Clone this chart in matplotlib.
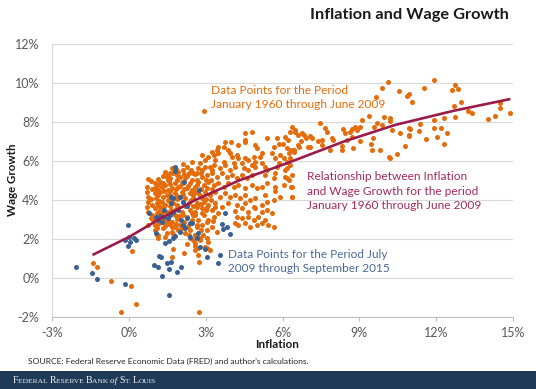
import matplotlib
matplotlib.use("Agg")
import matplotlib.pyplot as plt

plt.rcParams['font.family'] = ['Lato', 'DejaVu Sans']

# ---- data (inflation %, wage growth %) ----
obs_1960_2009 = [
    (-1.39,0.79),(-1.24,0.56),(-0.70,-0.15),(0.09,-0.39),(0.28,-1.33),(-0.32,-1.74),(2.73,-1.74),
    (0.12,1.40),(1.71,1.47),(1.67,1.09),(2.16,1.26),(2.75,0.84),(2.95,8.58),
    (0.76,5.06),(0.72,4.69),(0.72,4.43),(0.74,4.17),(0.76,3.92),(0.72,3.66),(0.76,3.40),
    (1.02,4.86),(1.02,4.60),(1.02,4.35),(1.06,4.09),(1.09,3.83),(1.02,3.58),(1.09,3.32),(1.06,3.06),
    (1.22,4.94),(1.28,4.69),(1.22,4.43),(1.35,4.17),(1.28,3.92),(1.22,3.66),(1.35,3.15),(1.28,2.89),
    (1.41,5.46),(1.48,5.20),(1.54,5.03),(1.41,4.77),(1.54,4.52),(1.48,4.26),(1.54,4.00),(1.41,3.75),(1.48,3.40),(1.54,2.98),
    (1.67,5.63),(1.74,5.37),(1.61,5.11),(1.80,4.86),(1.67,4.60),(1.80,4.35),(1.67,4.09),(1.74,3.83),(1.80,3.23),(1.67,2.89),
    (1.93,5.46),(2.00,5.20),(2.06,4.94),(1.93,4.69),(2.06,4.43),(2.00,4.17),(2.13,3.92),(1.93,3.66),(2.06,3.40),
    (2.26,5.71),(2.33,5.37),(2.20,5.11),(2.39,4.86),(2.26,4.60),(2.39,4.35),(2.20,4.09),(2.33,3.83),(2.39,3.49),(2.26,3.15),
    (2.52,5.37),(2.65,5.03),(2.59,4.69),(2.72,4.35),(2.52,4.09),(2.65,3.75),(2.59,3.40),(2.72,2.98),
    (1.54,5.30),(1.87,5.26),(2.26,5.24),(2.58,5.31),(1.12,4.76),(1.61,4.80),(2.00,4.74),(2.32,4.72),(2.65,4.79),
    (1.12,4.24),(1.61,4.28),(1.87,4.22),(2.13,4.30),(2.52,4.25),(1.12,3.72),(1.61,3.70),(1.87,3.76),(2.52,3.68),
    (0.92,3.25),(1.61,3.26),(1.96,3.18),(2.52,3.22),(0.76,2.72),(1.02,2.70),(1.15,2.78),(1.41,2.66),(1.67,2.60),
    (2.00,2.70),(2.32,2.68),(2.65,2.74),(1.15,2.19),(1.41,2.10),(1.74,2.24),(2.58,2.18),(2.26,1.72),(2.58,1.66),
    (2.45,5.95),(2.10,5.55),
    (0.85,4.95),(0.90,4.55),(0.88,4.05),(0.92,3.75),(0.86,3.10),(0.95,2.95),
    (1.15,5.10),(1.15,4.50),(1.17,3.95),(1.18,3.45),(1.20,3.05),(1.10,2.55),
    (1.35,5.25),(1.32,4.85),(1.38,4.45),(1.33,3.65),(1.30,3.35),(1.40,2.85),
    (1.60,5.40),(1.58,4.95),(1.62,4.45),(1.58,3.95),(1.63,3.50),(1.58,2.75),
    (1.85,5.60),(1.88,5.05),(1.83,4.55),(1.90,4.05),(1.85,3.55),(1.88,3.05),(1.83,2.75),
    (2.12,5.85),(2.15,5.35),(2.12,4.85),(2.15,4.55),(2.18,3.70),(2.12,3.25),(2.15,2.85),
    (2.42,5.55),(2.45,5.05),(2.45,4.50),(2.42,4.00),(2.47,3.35),(2.45,3.00),(2.40,2.45),
    (2.80,5.40),(2.80,4.55),(2.85,4.10),(2.80,3.80),(2.85,3.35),(2.82,2.45),
    (3.00,5.05),(3.05,4.60),(3.02,4.05),(3.00,3.50),(3.05,2.85),
    (3.25,5.55),(3.20,5.05),(3.25,4.55),(3.22,4.00),(3.28,2.90),
    (1.02,2.46),(1.09,2.21),(1.15,2.04),(1.35,2.55),(1.48,2.29),(1.67,2.38),(1.80,2.63),(1.93,2.46),(2.06,2.55),
    (2.20,2.29),(2.33,2.21),(2.39,2.04),(2.52,1.95),(2.65,2.12),(2.78,1.95),(2.91,2.21),(3.04,2.04),(3.11,1.87),
    (2.59,1.44),(2.72,1.18),(3.04,1.52),
    (4.80,7.50),(4.54,7.42),(4.54,7.07),(4.54,6.95),(4.00,6.99),(4.28,6.82),(5.39,7.16),(5.78,7.16),(6.10,7.25),
    (6.00,6.87),(5.85,6.87),(5.65,6.70),(4.93,6.82),(5.00,6.65),(5.19,6.39),(5.13,6.22),
    (3.74,6.99),(3.70,6.73),(3.50,6.73),(3.44,6.56),(3.50,6.39),(3.24,6.48),(3.31,6.31),(3.11,6.22),(2.98,6.05),(2.85,6.31),(2.79,5.88),
    (3.89,6.56),(3.96,6.39),(4.02,6.22),(4.22,6.30),(4.28,6.13),(4.54,6.13),(4.67,6.05),(4.87,6.22),(4.93,5.96),
    (5.58,6.39),(5.71,6.13),(5.91,6.30),(6.04,6.13),(6.24,6.39),(6.30,6.13),(6.43,6.48),(6.17,5.96),(6.30,5.79),
    (5.85,5.88),(5.78,5.71),(5.19,5.88),(5.32,5.71),(5.39,5.54),(4.80,5.79),(4.93,5.71),(4.41,5.88),(4.48,5.62),(4.67,5.54),
    (4.09,5.88),(4.15,5.71),(3.96,5.54),(3.70,5.96),(3.76,5.79),(3.57,5.62),(3.37,6.05),(3.31,5.79),(3.18,5.71),
    (2.98,5.71),(2.85,5.54),(2.72,5.62),(2.66,5.37),(2.85,5.19),(3.05,5.28),(3.24,5.37),(3.44,5.19),(3.63,5.37),
    (3.83,5.19),(4.02,5.28),(4.22,5.11),(4.41,5.28),(4.61,5.11),(4.80,5.28),(5.32,5.28),(5.65,5.11),(5.71,5.37),
    (6.10,5.54),(6.37,5.28),(6.24,5.02),
    (2.72,4.94),(2.92,4.77),(3.11,4.94),(3.31,4.77),(3.50,4.85),(3.70,4.68),(3.89,4.85),(4.09,4.68),
    (4.28,4.77),(4.54,4.60),(4.80,4.77),(5.00,4.60),(5.19,4.68),(5.39,4.85),(5.71,4.68),(6.04,4.77),
    (2.59,4.42),(2.79,4.25),(2.98,4.42),(3.18,4.25),(3.37,4.42),(3.57,4.17),(3.76,4.34),(3.96,4.17),(4.15,4.25),
    (4.35,4.08),(4.54,4.25),(4.74,4.00),(4.93,4.08),(5.32,4.25),(5.65,4.00),(5.91,4.17),
    (2.66,3.83),(2.92,3.91),(3.11,3.74),(3.37,3.83),(3.63,3.66),(3.89,3.83),(4.22,3.74),(4.54,3.83),(4.87,3.66),(5.19,3.74),(5.39,3.91),
    (6.37,4.68),(6.37,4.17),(5.72,4.45),
    (2.66,3.65),(2.85,3.57),(3.05,3.65),(3.24,3.48),(3.37,3.65),
    (4.15,3.43),(4.41,3.57),(4.67,3.40),(4.93,3.57),(5.19,3.40),(5.39,3.48),(5.58,3.31),
    (4.22,3.14),(4.41,3.06),(4.67,3.14),(4.87,2.97),(5.06,3.14),(5.32,2.97),
    (4.15,2.80),(4.28,2.71),(4.54,2.80),(4.74,2.63),(5.00,2.71),(5.19,2.80),(5.45,2.71),(5.68,2.63),
    (2.59,3.23),(2.92,3.23),(3.11,2.97),(3.31,3.14),(3.50,3.31),
    (2.66,2.63),(2.85,2.71),(3.05,2.46),(3.24,2.63),(3.44,2.37),
    (2.59,2.20),(2.79,2.03),(2.59,1.77),(2.72,1.52),(2.98,1.60),(3.18,1.43),
    (10.10,10.07),(9.88,9.73),(9.65,9.30),
    (9.09,8.11),(9.39,8.33),(9.95,8.28),(10.20,8.19),(10.18,8.05),(9.88,7.85),(9.68,7.97),(9.59,7.73),(10.27,7.59),
    (8.83,7.73),(8.90,7.59),(8.64,7.51),(8.70,7.63),(8.38,7.63),(8.44,7.46),(7.66,7.68),(7.73,7.51),(7.47,7.94),
    (7.92,7.17),(7.99,7.08),(7.40,7.00),(7.53,7.08),(6.91,7.17),(6.73,7.00),(6.62,7.34),(6.78,7.46),(6.49,7.51),(6.30,7.51),
    (6.23,7.08),(6.59,6.82),(6.65,6.74),(7.01,6.74),(6.43,6.57),(6.33,6.57),(6.17,6.65),(7.08,6.70),
    (7.86,6.57),(8.31,6.77),(8.31,6.57),(8.51,7.08),(8.70,7.25),(8.77,6.65),(9.03,7.00),(9.46,6.88),(9.49,6.57),(9.55,7.17),
    (9.81,6.57),(10.14,6.19),(10.18,6.14),(6.17,5.63),(6.33,4.69),(6.36,4.17),(6.10,5.20),(6.17,5.11),
    (9.04,7.76),(7.54,6.82),(7.15,7.16),(6.37,7.76),(6.50,7.59),(6.82,7.34),(7.08,7.28),
    (10.55,9.60),(10.86,9.35),(10.92,9.42),(11.05,9.01),(11.51,9.74),(11.92,10.15),(12.61,9.64),(12.74,9.90),
    (12.87,9.69),(12.69,8.84),(12.98,9.01),(13.24,8.56),(13.41,8.48),(12.72,8.27),(12.29,8.22),(11.91,8.10),
    (11.35,7.90),(10.95,7.69),(10.99,7.62),(10.57,7.42),(11.34,7.56),(10.95,7.33),(10.95,7.28),(11.91,7.71),
    (12.17,7.69),(12.44,7.45),(12.04,7.23),(11.61,7.13),(12.31,6.87),(10.79,6.75),(10.48,6.34),
    (14.02,8.14),(14.31,8.29),(14.50,8.96),(14.50,8.70),(14.87,8.44),
]

obs_2009_2015 = [
    (-2.06,0.56),(-1.43,0.26),(-1.24,-0.07),(-0.15,-0.31),(-0.04,2.70),(-0.15,1.95),(0.02,2.09),(0.21,2.03),
    (0.27,1.93),(-0.02,1.64),(0.05,1.86),
    (0.80,3.35),(1.06,2.32),(1.15,2.97),(1.22,3.20),(1.37,3.49),(1.28,2.89),(1.61,3.21),(1.79,5.68),(1.79,5.50),
    (2.16,4.91),(1.71,4.09),(1.93,3.49),(2.03,2.97),(2.10,2.72),(2.20,2.55),(2.37,2.84),(2.26,3.06),
    (1.43,1.78),(1.56,1.91),(1.71,2.03),(1.80,2.15),(1.19,1.13),(1.25,1.06),(1.00,0.67),(1.12,0.58),(1.48,0.75),
    (1.56,0.46),(1.28,0.10),(1.57,-0.85),(1.90,0.31),(2.05,0.55),
    (2.78,1.61),(2.96,1.50),(3.04,1.09),(3.74,3.31),(3.56,1.20),(3.47,0.75),(3.65,2.77),(3.66,2.53),(3.85,2.63),(3.95,2.24),
    (2.73,4.51),(2.40,2.09),(2.68,2.03),(2.00,4.17),(1.64,4.14),(1.66,3.87),(1.05,3.15),(1.39,3.15),(1.54,3.06),
    (2.10,3.90),(2.29,3.71),(1.74,3.41),(2.46,2.81),(1.64,0.81),(2.00,2.38),(2.72,2.29),
]

# relationship curve
fit_infl = [-1.42, 0.0, 1.3, 2.6, 4.3, 6.1, 8.4, 10.4, 12.7, 14.9]
fit_wage = [1.18, 2.10, 3.10, 4.00, 5.00, 5.85, 7.00, 7.85, 8.58, 9.18]

x_ticks = [-3, 0, 3, 6, 9, 12, 15]
y_ticks = [-2, 0, 2, 4, 6, 8, 10, 12]

ORANGE = '#E46C0A'
BLUE = '#3A6194'
MAROON = '#9B1B4B'

W, H = 536, 389
fig = plt.figure(figsize=(W/100, H/100), dpi=100)
fig.patch.set_facecolor('white')

# footer banner (drawn first, behind everything)
banner = fig.add_axes([0, 0, 1, (H-371)/H], zorder=0)
banner.set_axis_off()
banner.add_patch(plt.Rectangle((0, 0), 1, 1, transform=banner.transAxes, color='#1E3A57'))

ax = fig.add_axes([52/W, 1-317/H, (513-52)/W, (317-44)/H], zorder=1)

ox, oy = zip(*obs_1960_2009)
bx, by = zip(*obs_2009_2015)
ax.scatter(ox, oy, s=13, color=ORANGE, linewidths=0, zorder=3)
ax.scatter(bx, by, s=13, color=BLUE, linewidths=0, zorder=4)
ax.plot(fit_infl, fit_wage, color=MAROON, lw=1.9, zorder=5, solid_capstyle='butt')

ax.set_xlim(-3, 15)
ax.set_ylim(-2, 12)
ax.set_xticks(x_ticks)
ax.set_xticklabels([f'{t}%' for t in x_ticks])
ax.set_yticks(y_ticks)
ax.set_yticklabels([f'{t}%' for t in y_ticks])
ax.yaxis.grid(True, color='#D9D9D9', lw=0.8)
ax.set_axisbelow(True)
for s in ['top', 'right']:
    ax.spines[s].set_visible(False)
ax.spines['left'].set_color('#D9D9D9')
ax.spines['bottom'].set_color('#BFBFBF')
ax.spines['left'].set_linewidth(0.8)
ax.spines['bottom'].set_linewidth(0.8)
ax.tick_params(axis='x', length=3, color='#BFBFBF', labelsize=9, labelcolor='#595959', pad=4)
ax.tick_params(axis='y', length=0, labelsize=9, labelcolor='#595959', pad=9)

# annotations
ax.text(3.21, 9.26, 'Data Points for the Period\nJanuary 1960 through June 2009',
        color=ORANGE, fontsize=8.6, ha='left', va='center', linespacing=1.4)
ax.text(6.95, 4.46, 'Relationship between Inflation\nand Wage Growth for the period\nJanuary 1960 through June 2009',
        color='#A52A5A', fontsize=8.6, ha='left', va='center', linespacing=1.4)
ax.text(3.86, 0.84, 'Data Points for the Period July\n2009 through September 2015',
        color='#4A6A98', fontsize=8.5, ha='left', va='center', linespacing=1.4)

fig.text(509/W, 1-15/H, 'Inflation and Wage Growth', ha='right', va='center',
         fontsize=11.8, fontweight='bold', color='#1a1a1a')
fig.text(277/W, 1-345/H, 'Inflation', ha='center', va='center', fontsize=8.4, fontweight='bold', color='#1a1a1a')
fig.text(13/W, 1-180/H, 'Wage Growth', ha='center', va='center', rotation=90,
         fontsize=8.3, fontweight='bold', color='#1a1a1a')
fig.text(28/W, 1-361/H, "SOURCE: Federal Reserve Economic Data (FRED) and author's calculations.",
         ha='left', va='center', fontsize=6.1, color='#262626')

# footer wordmark in small capitals
pieces = [('F', 7, 'normal'), ('EDERAL ', 5.4, 'normal'), ('R', 7, 'normal'), ('ESERVE ', 5.4, 'normal'),
          ('B', 7, 'normal'), ('ANK ', 5.4, 'normal'), ('of ', 6.6, 'italic'), ('S', 7, 'normal'),
          ('T. ', 5.4, 'normal'), ('L', 7, 'normal'), ('OUIS', 5.4, 'normal')]
renderer = fig.canvas.get_renderer()
xpix = 13.0
ybase = 1 - 383/H
for txt, size, style in pieces:
    t = fig.text(xpix/W, ybase, txt, fontsize=size, style=style, color='#F2F2F2',
                 family='Liberation Serif', va='baseline', ha='left', zorder=5)
    bb = t.get_window_extent(renderer=renderer)
    xpix += bb.width

fig.savefig('out.png', dpi=100, facecolor='white')
